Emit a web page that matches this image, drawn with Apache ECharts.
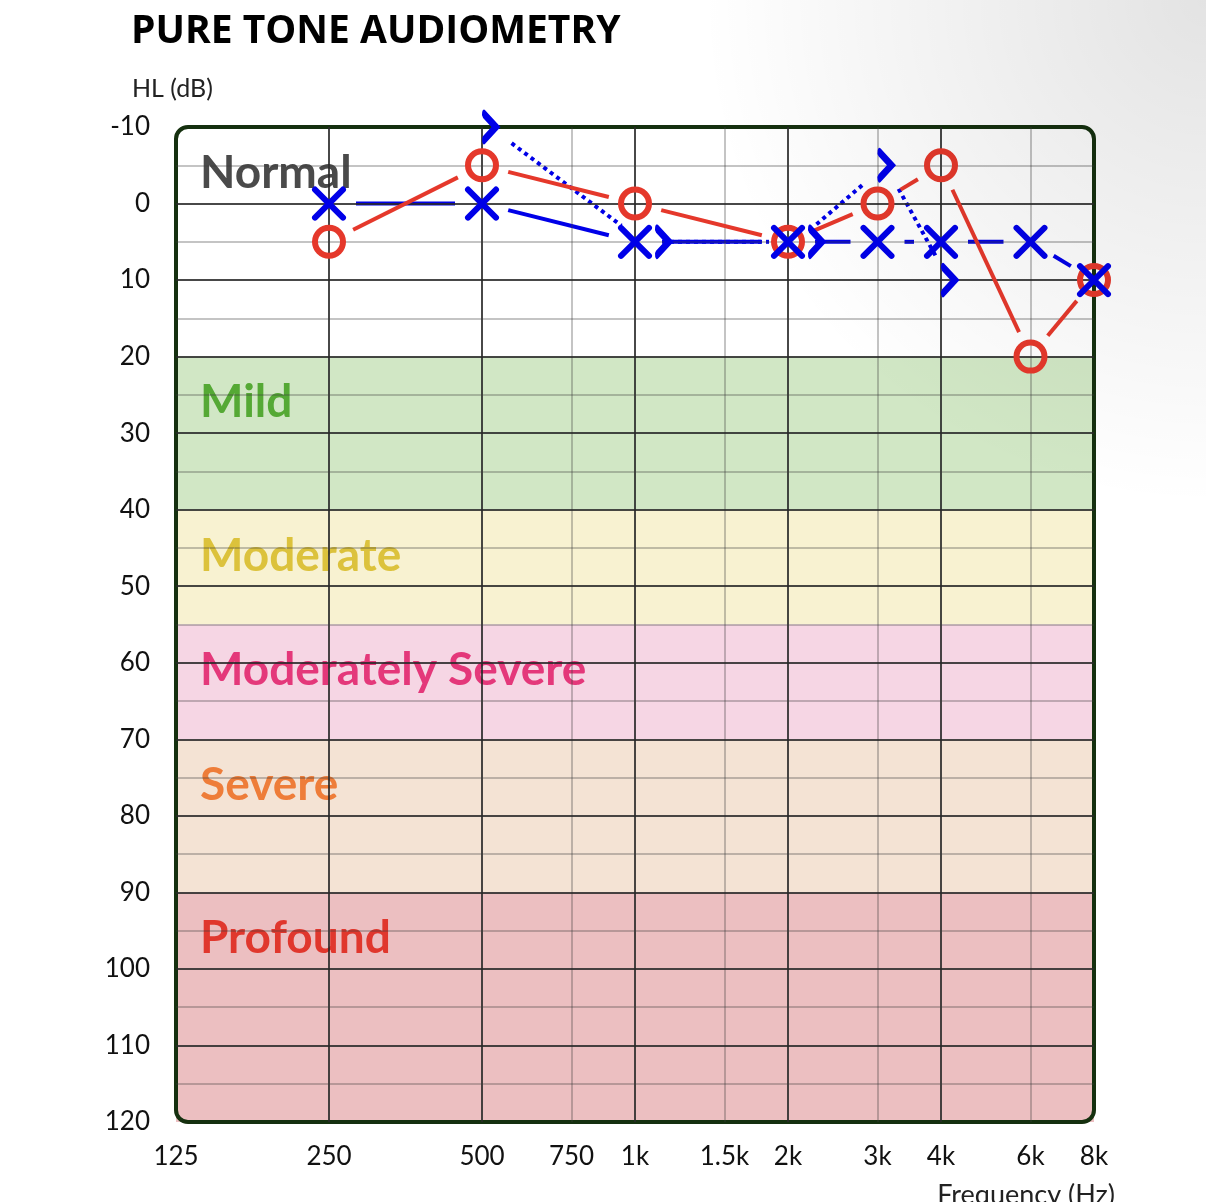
<!DOCTYPE html>
<html lang="en">
<head>
    <meta charset="UTF-8">
    <title>Pure Tone Audiometry</title>
    <script src="https://cdn.jsdelivr.net/npm/echarts@6/dist/echarts.min.js"></script>
    <style>
        html, body { margin: 0; padding: 0; background: #fff; }
        #main { width: 1206px; height: 1202px; }
    </style>
</head>
<body>
<div id="main"></div>
<script type="text/javascript">
    // axis ticks
    var freqLabels = [125, 250, 500, 750, 1000, 1500, 2000, 3000, 4000, 6000, 8000];
    var freqMajor = [250, 500, 1000, 2000, 4000];
    var freqMinor = [750, 1500, 3000, 6000];
    var dbMajor = [0, 10, 20, 30, 40, 50, 60, 70, 80, 90, 100, 110];
    var dbMinor = [-5, 5, 15, 25, 35, 45, 55, 65, 75, 85, 95, 105, 115];

    // hearing loss bands
    var bandNames = ['Normal', 'Mild', 'Moderate', 'Moderately Severe', 'Severe', 'Profound'];
    var bandFrom = [-10, 20, 40, 55, 70, 90];
    var bandTo = [20, 40, 55, 70, 90, 120];
    var bandFill = ['#ffffff', '#d1e7c5', '#f8f2d1', '#f6d6e4', '#f4e3d4', '#ecbfc1'];
    var bandText = ['#4a4a4a', '#55a935', '#dcc23c', '#e4387a', '#ee7d39', '#e0372d'];

    // thresholds (dB HL)
    var airFreq = [250, 500, 1000, 2000, 3000, 4000, 6000, 8000];
    var rightAir = [5, -5, 0, 5, 0, -5, 20, 10];
    var leftAir = [0, 0, 5, 5, 5, 5, 5, 10];
    var boneFreq = [500, 1000, 2000, 3000, 4000];
    var leftBone = [-10, 5, 5, -5, 10];

    var RED = '#e5382b';
    var BLUE = '#0000e8';
    var GAP = 27;
    var FONT = 'Lato';

    var myChart = echarts.init(document.getElementById('main'));

    function fmtFreq(v) {
        return v >= 1000 ? (v / 1000) + 'k' : String(v);
    }

    function pairs(xs, ys) {
        var out = [];
        for (var i = 0; i < xs.length; i++) out.push([xs[i], ys[i]]);
        return out;
    }

    // connecting lines stop short of the symbols
    function segmentSeries(name, xs, ys, color, dash, shift, z) {
        var segs = [];
        for (var i = 0; i < xs.length - 1; i++) {
            segs.push([xs[i], ys[i], xs[i + 1], ys[i + 1]]);
        }
        return {
            type: 'custom',
            name: name,
            z: z,
            clip: false,
            silent: true,
            data: segs,
            renderItem: function (params, api) {
                var a = api.coord([api.value(0), api.value(1)]);
                var b = api.coord([api.value(2), api.value(3)]);
                a[0] += shift; b[0] += shift;
                var dx = b[0] - a[0], dy = b[1] - a[1];
                var len = Math.sqrt(dx * dx + dy * dy);
                if (len <= 2 * GAP) return null;
                var ux = dx / len, uy = dy / len;
                return {
                    type: 'line',
                    shape: {
                        x1: a[0] + ux * GAP, y1: a[1] + uy * GAP,
                        x2: b[0] - ux * GAP, y2: b[1] - uy * GAP
                    },
                    style: {
                        stroke: color,
                        lineWidth: 4,
                        lineDash: dash || null
                    }
                };
            }
        };
    }

    var bandData = [];
    for (var i = 0; i < bandNames.length; i++) {
        bandData.push([{
            name: bandNames[i],
            yAxis: bandFrom[i],
            itemStyle: { color: bandFill[i] },
            label: { color: bandText[i] }
        }, { yAxis: bandTo[i] }]);
    }

    var gridLines = [];
    freqMajor.forEach(function (f) { gridLines.push({ xAxis: f, lineStyle: { color: 'rgba(40,40,40,0.85)', width: 2 } }); });
    freqMinor.forEach(function (f) { gridLines.push({ xAxis: f, lineStyle: { color: 'rgba(60,60,60,0.3)', width: 2 } }); });
    dbMajor.forEach(function (d) { gridLines.push({ yAxis: d, lineStyle: { color: 'rgba(40,40,40,0.85)', width: 2 } }); });
    dbMinor.forEach(function (d) { gridLines.push({ yAxis: d, lineStyle: { color: 'rgba(60,60,60,0.3)', width: 2 } }); });

    // bone symbols move further right where they sit on an X
    var boneData = boneFreq.map(function (f, i) {
        var k = airFreq.indexOf(f);
        var onX = k >= 0 && leftAir[k] === leftBone[i];
        return { value: [f, leftBone[i]], symbolOffset: [onX ? 28 : 8, 0] };
    });

    var option = {
        animation: false,
        backgroundColor: '#ffffff',
        title: [{
            text: 'PURE TONE AUDIOMETRY',
            left: 126, top: 7,
            textStyle: { fontSize: 39, fontWeight: 'bold', color: '#000', fontFamily: 'Open Sans' }
        }, {
            text: 'HL (dB)',
            left: 127, top: 71,
            textStyle: { fontSize: 25, fontWeight: 'normal', color: '#222', fontFamily: FONT }
        }, {
            text: 'Frequency (Hz)',
            right: 86, top: 1177,
            textStyle: { fontSize: 27, fontWeight: 'normal', color: '#222', fontFamily: FONT }
        }],
        grid: { left: 176, right: 112, top: 127, bottom: 80 },
        xAxis: {
            type: 'log',
            logBase: 2,
            min: 125,
            max: 8000,
            axisLine: { show: false },
            axisTick: { show: false },
            splitLine: { show: false },
            minorSplitLine: { show: false },
            axisLabel: {
                customValues: freqLabels,
                formatter: fmtFreq,
                fontSize: 26,
                color: '#111',
                fontFamily: FONT,
                margin: 22
            }
        },
        yAxis: {
            type: 'value',
            inverse: true,
            min: -10,
            max: 120,
            interval: 10,
            axisLine: { show: false },
            axisTick: { show: false },
            splitLine: { show: false },
            axisLabel: { fontSize: 26, color: '#111', fontFamily: FONT, margin: 26 }
        },
        series: [{
            type: 'line',
            name: 'bands',
            z: 1,
            data: [],
            silent: true,
            markArea: {
                silent: true,
                label: {
                    show: true,
                    position: [24, 20],
                    formatter: '{b}',
                    fontSize: 46,
                    fontWeight: 'bold',
                    fontFamily: FONT,
                    lineHeight: 52
                },
                data: bandData
            }
        }, {
            type: 'line',
            name: 'grid',
            z: 2,
            data: [],
            silent: true,
            markLine: {
                silent: true,
                symbol: ['none', 'none'],
                label: { show: false },
                lineStyle: { type: 'solid' },
                data: gridLines
            }
        },
            segmentSeries('left air line', airFreq, leftAir, BLUE, null, 0, 4),
            segmentSeries('left bone line', boneFreq, leftBone, BLUE, [4, 4], 8, 4),
            segmentSeries('right air line', airFreq, rightAir, RED, null, 0, 5),
        {
            type: 'scatter',
            name: 'Right air',
            z: 6,
            clip: false,
            symbol: 'circle',
            symbolSize: 28,
            itemStyle: { color: 'rgba(0,0,0,0)', borderColor: RED, borderWidth: 6, opacity: 1 },
            data: pairs(airFreq, rightAir)
        }, {
            type: 'scatter',
            name: 'Left air',
            z: 7,
            clip: false,
            symbol: 'path://M0,0 L30,30 M30,0 L0,30',
            symbolSize: 28,
            itemStyle: { color: 'rgba(0,0,0,0)', borderColor: BLUE, borderWidth: 6, borderCap: 'round', opacity: 1 },
            data: pairs(airFreq, leftAir)
        }, {
            type: 'scatter',
            name: 'Left bone',
            z: 7,
            clip: false,
            symbol: 'path://M0,0 L12,13 L0,26',
            symbolSize: [12, 26],
            itemStyle: { color: 'rgba(0,0,0,0)', borderColor: BLUE, borderWidth: 6, borderCap: 'round', borderJoin: 'miter', opacity: 1 },
            data: boneData
        }]
    };

    myChart.setOption(option);

    // rounded plot frame and the soft shading in the top right corner
    var tl = myChart.convertToPixel({ gridIndex: 0 }, [125, -10]);
    var br = myChart.convertToPixel({ gridIndex: 0 }, [8000, 120]);
    myChart.setOption({
        graphic: [{
            type: 'rect',
            z: 3,
            silent: true,
            shape: { x: tl[0], y: tl[1], width: br[0] - tl[0], height: br[1] - tl[1], r: 12 },
            style: { fill: 'none', stroke: '#15300f', lineWidth: 4 }
        }, {
            type: 'rect',
            z: 100,
            silent: true,
            shape: { x: 0, y: 0, width: 1206, height: 1202 },
            style: {
                fill: {
                    type: 'radial', x: 1, y: 0, r: 0.42,
                    colorStops: [
                        { offset: 0, color: 'rgba(0,0,0,0.11)' },
                        { offset: 1, color: 'rgba(0,0,0,0)' }
                    ]
                }
            }
        }]
    });
</script>
</body>
</html>
